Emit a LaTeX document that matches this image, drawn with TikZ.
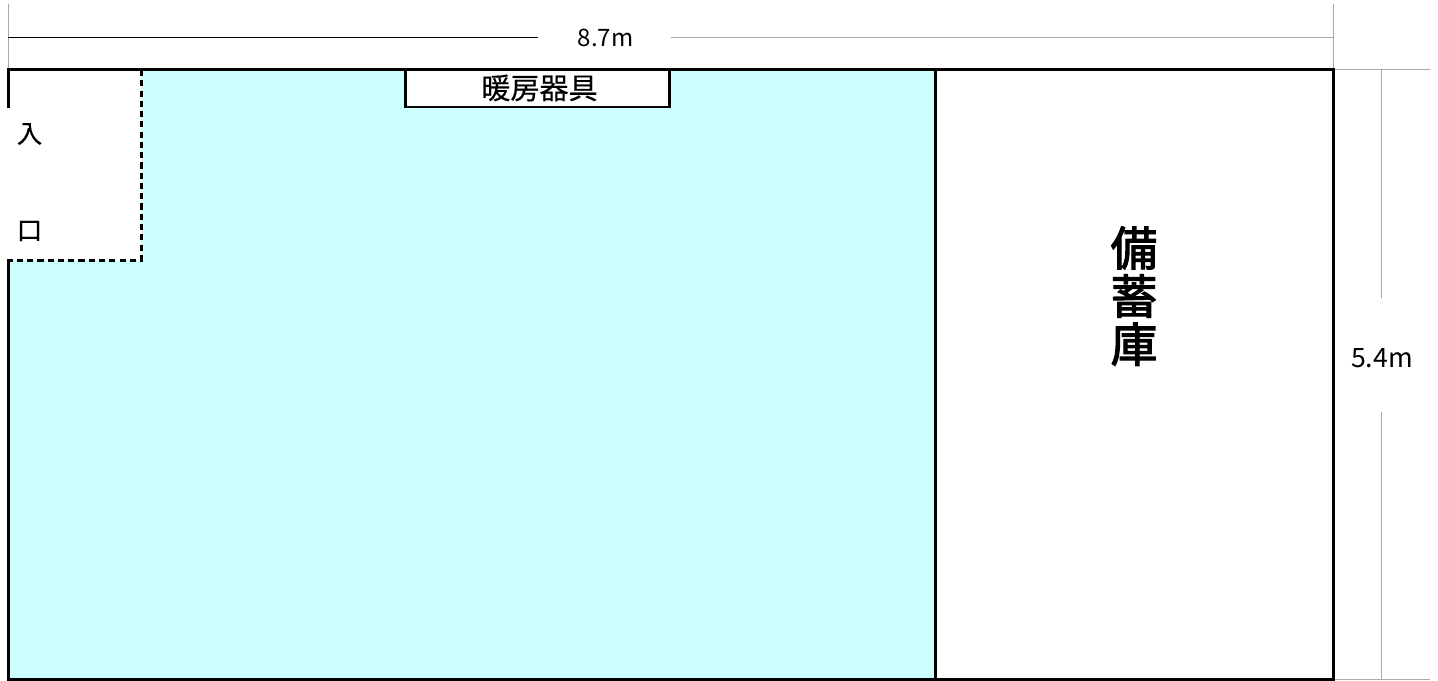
\documentclass[tikz,border=0pt]{standalone}
\usepackage{fontspec}
\setmainfont{Noto Sans CJK JP}
\newfontfamily\boldcjk[FakeBold=2.6]{Noto Sans CJK JP}
\newfontfamily\heavycjk[FakeBold=0.4]{Noto Sans CJK JP}
\usetikzlibrary{positioning}
\definecolor{roomcyan}{RGB}{204,255,255}
\definecolor{dimgray}{RGB}{170,170,170}
\tikzset{
	wall/.style={line width=2.25pt,black,line cap=rect},
	thinwall/.style={line width=2.25pt,black},
	entrywall/.style={line width=2.25pt,black,dash pattern=on 4.6pt off 3.1pt},
	dimline/.style={line width=0.75pt,dimgray},
	roomlabel/.style={font=\fontsize{19}{22}\selectfont\heavycjk,inner sep=0pt},
	storelabel/.style={font=\fontsize{35}{38}\selectfont\boldcjk,inner sep=0pt}
}
\begin{document}
\begin{tikzpicture}[x=0.75pt,y=-0.75pt]
	\useasboundingbox (0,0) rectangle (1438,681);
	\fill[white] (0,0) rectangle (1438,681);

	\coordinate (tl) at (8,70);
	\coordinate (tr) at (1333,70);
	\coordinate (bl) at (8,679);
	\coordinate (br) at (1333,679);
	\coordinate (divtop) at (935,70);
	\coordinate (divbot) at (935,679);
	\coordinate (doorend) at (8,107);
	\coordinate (entrytop) at (141,70);
	\coordinate (entrycorner) at (141,260);
	\coordinate (entryleft) at (8,260);

	\fill[roomcyan] (entrytop) -- (divtop) -- (divbot) -- (bl) -- (entryleft) -- (entrycorner) -- cycle;

	\node[font=\fontsize{18}{22}\selectfont,inner sep=0pt] (widthlabel) at (605.5,38) {8.7m};
	\node[font=\fontsize{20}{24}\selectfont,inner sep=0pt] (heightlabel) at (1382,358) {5.4m};
	\draw[dimline] (8,4) -- (tl);
	\draw[dimline] (1333,4) -- (br);
	\draw[line width=0.75pt,black] (8,38) -- (538,38);
	\draw[dimline] (671,38) -- (1333,38);
	\draw[dimline] (tr) -- (1430,70);
	\draw[dimline] (br) -- (1430,679);
	\draw[dimline] (1381,70) -- (1381,298);
	\draw[dimline] (1381,412) -- (1381,679);

	\draw[entrywall] (entrytop) -- (entrycorner) -- (entryleft);
	\draw[wall] (doorend) -- (tl) -- (tr) -- (br) -- (bl) -- (entryleft);
	\draw[thinwall] (divtop) -- (divbot);

	\node[draw,line width=2pt,fill=white,minimum width=264pt*0.75,minimum height=37pt*0.75,inner sep=0pt] (heater) at (537.5,88.5) {};
	\node[font=\fontsize{21.8}{26}\selectfont\heavycjk,inner sep=0pt] (heaterlabel) at (539.5,88) {暖房器具};

	\node[roomlabel] (entrya) at (29.5,134) {入};
	\node[roomlabel] (entryb) at (29.5,231) {口};

	\node[storelabel] (storeb) at (1134,296) {蓄};
	\node[storelabel,above=3.5pt of storeb] (storea) {備};
	\node[storelabel,below=3.5pt of storeb] (storec) {庫};
\end{tikzpicture}
\end{document}
